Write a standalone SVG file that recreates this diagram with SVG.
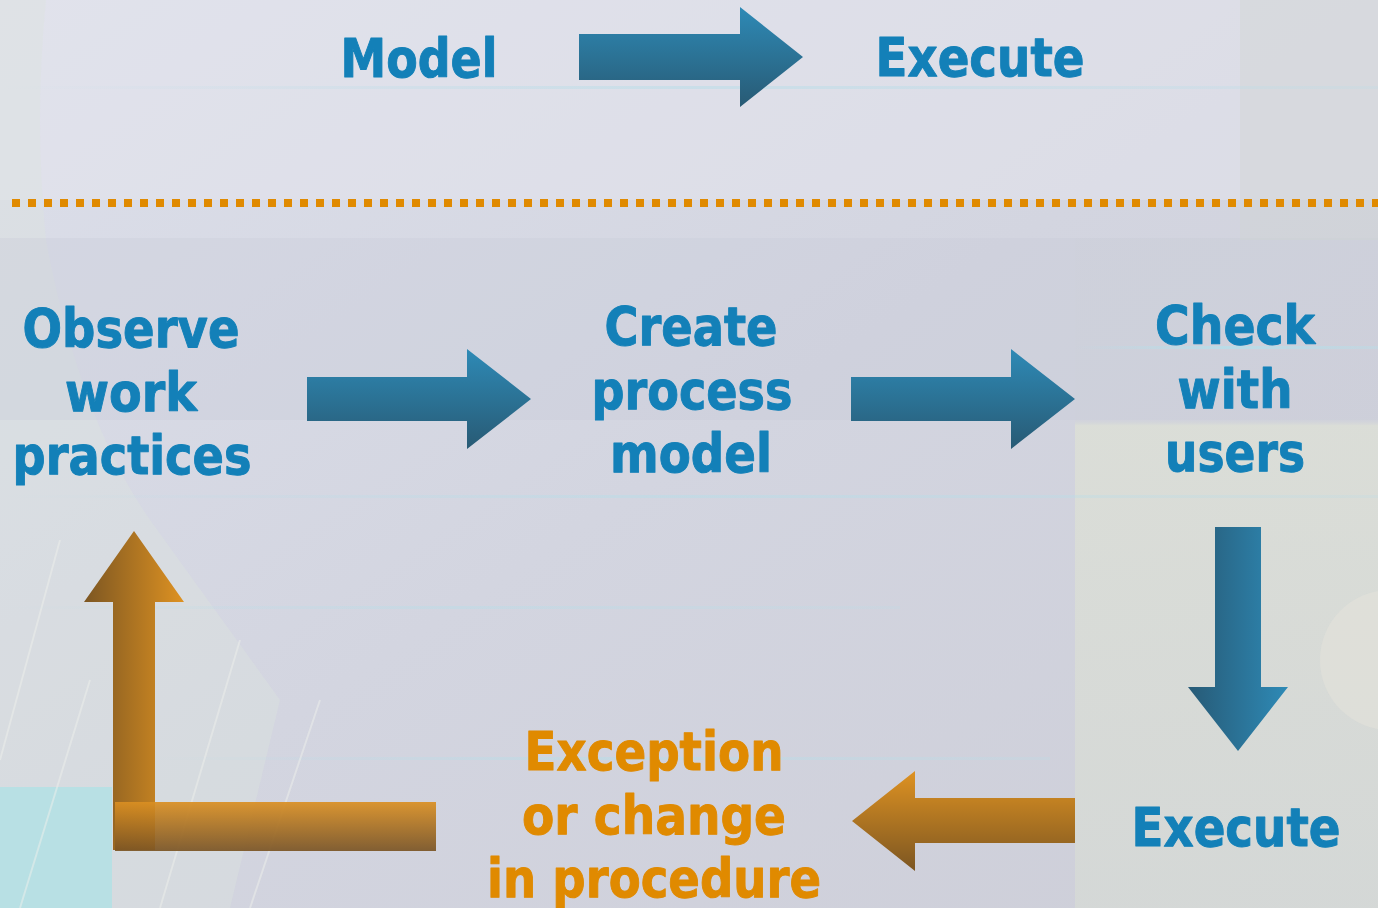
<svg xmlns="http://www.w3.org/2000/svg" width="1378" height="908" viewBox="0 0 1378 908">
<defs>
<linearGradient id="bg" x1="0" y1="0" x2="1" y2="1">
<stop offset="0" stop-color="#DCDFEA"/>
<stop offset="0.5" stop-color="#D3D5E0"/>
<stop offset="1" stop-color="#CDCED8"/>
</linearGradient>
<linearGradient id="blueH" x1="0" y1="0" x2="0" y2="1">
<stop offset="0" stop-color="#2E8AB6"/>
<stop offset="1" stop-color="#285A74"/>
</linearGradient>
<linearGradient id="blueV" x1="0" y1="0" x2="1" y2="0">
<stop offset="0" stop-color="#275A76"/>
<stop offset="1" stop-color="#2E8AB6"/>
</linearGradient>
<linearGradient id="orgH" x1="0" y1="0" x2="0" y2="1">
<stop offset="0" stop-color="#DE9222"/>
<stop offset="1" stop-color="#7C5622"/>
</linearGradient>
<linearGradient id="orgV" x1="0" y1="0" x2="1" y2="0">
<stop offset="0" stop-color="#7C5622"/>
<stop offset="1" stop-color="#DE9222"/>
</linearGradient>
<linearGradient id="orgBar" x1="0" y1="0" x2="0" y2="1">
<stop offset="0" stop-color="#DA8F22"/>
<stop offset="1" stop-color="#7A5424"/>
</linearGradient>
<linearGradient id="rightPane" x1="0" y1="0" x2="0" y2="1">
<stop offset="0" stop-color="#CDD0D8" stop-opacity="0.3"/>
<stop offset="0.27" stop-color="#CDD0D8" stop-opacity="0.3"/>
<stop offset="0.28" stop-color="#DDE0D6"/>
<stop offset="1" stop-color="#D6DAD6"/>
</linearGradient>
<linearGradient id="glow" x1="0" y1="0" x2="1" y2="0">
<stop offset="0" stop-color="#B8DDE8" stop-opacity="0"/>
<stop offset="0.5" stop-color="#B8DDE8" stop-opacity="0.9"/>
<stop offset="1" stop-color="#B8DDE8" stop-opacity="0.4"/>
</linearGradient>
</defs>
<style>
.t{font-family:"DejaVu Sans","Liberation Sans",sans-serif;font-weight:bold;font-size:53px;text-anchor:middle;stroke-width:1;stroke-linejoin:round}
.b{fill:#1380B8;stroke:#1380B8}
.o{fill:#E08A00;stroke:#E08A00}
</style>
<g id="background">
<rect width="1378" height="908" fill="url(#bg)"/>
<rect x="0" y="0" width="1378" height="200" fill="#E6E6EE" opacity="0.5"/>
<path d="M0 0 H46 Q34 120 46 240 Q80 420 150 520 L280 700 L230 908 H0 Z" fill="#DCE4DE" opacity="0.4"/>
<rect x="0" y="238" width="1378" height="182" fill="#C8CAD8" opacity="0.3"/>
<rect x="1075" y="238" width="303" height="670" fill="url(#rightPane)" opacity="0.8"/>
<rect x="1240" y="0" width="138" height="240" fill="#D0D4D2" opacity="0.4"/>
<ellipse cx="1390" cy="660" rx="70" ry="70" fill="#E6E4DC" opacity="0.5"/>
<rect x="0" y="787" width="112" height="121" fill="#B8E0E4"/>
<rect x="0" y="86" width="1378" height="3" fill="url(#glow)" opacity="0.6"/>
<rect x="1075" y="346" width="303" height="3" fill="url(#glow)"/>
<rect x="0" y="495" width="1378" height="3" fill="url(#glow)" opacity="0.6"/>
<rect x="0" y="606" width="900" height="3" fill="url(#glow)" opacity="0.5"/>
<rect x="150" y="757" width="900" height="3" fill="url(#glow)" opacity="0.6"/>
<path d="M0 760 L60 540 M20 908 L90 680 M250 908 L320 700 M160 908 L240 640" stroke="#EEF0EC" stroke-width="2" fill="none" opacity="0.5"/>
</g>
<g id="divider">
<line x1="12" y1="203" x2="1378" y2="203" stroke="#E08A00" stroke-width="8" stroke-dasharray="8 8"/>
</g>
<g id="legend-model"><text class="t b" x="419" y="77" textLength="157" lengthAdjust="spacingAndGlyphs">Model</text></g>
<g id="legend-execute"><text class="t b" x="980" y="76" textLength="209" lengthAdjust="spacingAndGlyphs">Execute</text></g>
<g id="node-observe">
<text class="t b" x="131" y="347" textLength="217" lengthAdjust="spacingAndGlyphs">Observe</text>
<text class="t b" x="131" y="411" textLength="132" lengthAdjust="spacingAndGlyphs">work</text>
<text class="t b" x="132" y="474" textLength="239" lengthAdjust="spacingAndGlyphs">practices</text>
</g>
<g id="node-create">
<text class="t b" x="691" y="345" textLength="173" lengthAdjust="spacingAndGlyphs">Create</text>
<text class="t b" x="692" y="409" textLength="201" lengthAdjust="spacingAndGlyphs">process</text>
<text class="t b" x="691" y="472" textLength="162" lengthAdjust="spacingAndGlyphs">model</text>
</g>
<g id="node-check">
<text class="t b" x="1235" y="344" textLength="160" lengthAdjust="spacingAndGlyphs">Check</text>
<text class="t b" x="1235" y="408" textLength="115" lengthAdjust="spacingAndGlyphs">with</text>
<text class="t b" x="1235" y="471" textLength="140" lengthAdjust="spacingAndGlyphs">users</text>
</g>
<g id="node-execute">
<text class="t b" x="1236" y="846" textLength="209" lengthAdjust="spacingAndGlyphs">Execute</text>
</g>
<g id="node-exception">
<text class="t o" x="654" y="770" textLength="259" lengthAdjust="spacingAndGlyphs">Exception</text>
<text class="t o" x="654" y="834" textLength="264" lengthAdjust="spacingAndGlyphs">or change</text>
<text class="t o" x="654" y="897" textLength="334" lengthAdjust="spacingAndGlyphs">in procedure</text>
</g>
<g id="connectors">
<path d="M579 34 H740 V7 L803 57 L740 107 V80 H579 Z" fill="url(#blueH)"/>
<path d="M307 377 H467 V349 L531 399 L467 449 V421 H307 Z" fill="url(#blueH)"/>
<path d="M851 377 H1011 V349 L1075 399 L1011 449 V421 H851 Z" fill="url(#blueH)"/>
<path d="M1215 527 H1261 V687 H1288 L1238 751 L1188 687 H1215 Z" fill="url(#blueV)"/>
<path d="M1075 798 H915 V771 L852 821 L915 871 V843 H1075 Z" fill="url(#orgH)"/>
<path d="M113 850 V602 H84 L134 531 L184 602 H155 V850 Z" fill="url(#orgV)"/>
<rect x="115" y="802" width="321" height="49" fill="url(#orgBar)" opacity="0.92"/>
</g>
</svg>
